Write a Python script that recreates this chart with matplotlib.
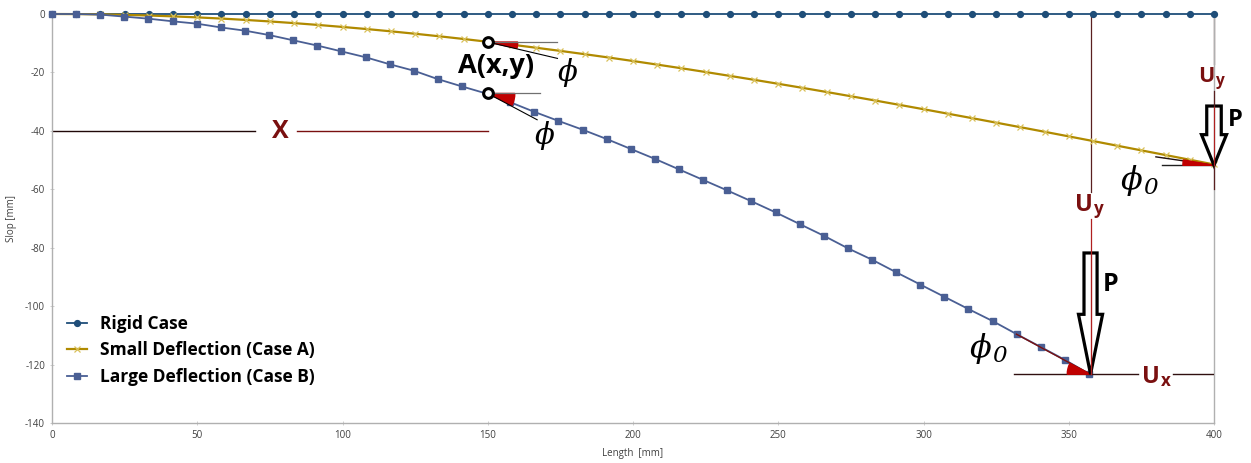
import numpy as np
import matplotlib
matplotlib.use("Agg")
import matplotlib.pyplot as plt
from matplotlib.patches import Wedge, FancyArrow

plt.rcParams["font.family"] = ["Open Sans", "DejaVu Sans"]
plt.rcParams["axes.unicode_minus"] = False

# ── Data ─────────────────────────────────────────────────────────────────────
rigid_x = np.linspace(0, 400, 49)
rigid_y = np.zeros(49)

small_x = np.linspace(0, 400, 49)
small_y = [0, -0.03, -0.13, -0.30, -0.52, -0.81, -1.16, -1.56, -2.03, -2.55,
           -3.12, -3.75, -4.43, -5.15, -5.93, -6.76, -7.63, -8.55, -9.51, -10.51,
           -11.55, -12.63, -13.75, -14.90, -16.09, -17.32, -18.57, -19.86, -21.18,
           -22.52, -23.89, -25.28, -26.70, -28.15, -29.61, -31.09, -32.59, -34.11,
           -35.64, -37.19, -38.74, -40.31, -41.89, -43.48, -45.08, -46.68, -48.28,
           -49.89, -51.50]

large_x = np.linspace(0, 357, 44)
large_y = [0, 0, -0.2, -0.9, -1.6, -2.5, -3.3, -4.6, -5.7, -7.2, -9.0, -10.8,
           -12.8, -14.8, -17.2, -19.4, -22.3, -24.8, -27.2, -30.2, -33.5, -36.6,
           -39.6, -42.8, -46.2, -49.6, -53.2, -56.8, -60.4, -64.1, -67.9, -71.9,
           -75.9, -80.2, -84.1, -88.4, -92.6, -96.8, -101.0, -105.1, -109.6,
           -114.0, -118.4, -123.2]

labels = ["Rigid Case", "Small Deflection (Case A)", "Large Deflection (Case B)"]

C_RIGID = "#1f4e79"
C_SMALL = "#b08a00"
C_SMALL_MK = "#d9c15a"
C_LARGE = "#4a5f94"
DARKRED = "#7a1010"
PHI = "ϕ"

fig = plt.figure(figsize=(12.51, 4.63), dpi=100)
ax = fig.add_axes([52 / 1251, 40 / 463, 1162 / 1251, 409 / 463])

ax.plot(rigid_x, rigid_y, color=C_RIGID, lw=1.3, marker="o", ms=4.2,
        label=labels[0], clip_on=False, zorder=3)
ax.plot(small_x, small_y, color=C_SMALL, lw=1.6, marker="x", ms=4.5, mew=0.9,
        mec=C_SMALL_MK, label=labels[1], clip_on=False, zorder=3)
ax.plot(large_x, large_y, color=C_LARGE, lw=1.3, marker="s", ms=4.3,
        label=labels[2], clip_on=False, zorder=3)

ax.set_xlim(0, 400)
ax.set_ylim(-140, 0)
ax.set_xticks(range(0, 401, 50))
ax.set_yticks(range(-140, 1, 20))
ax.tick_params(labelsize=7, colors="#404040", length=3, width=0.6, direction="inout")
ax.tick_params(axis="both", color="#c8c8c8")
for s in ["left", "bottom", "right"]:
    ax.spines[s].set_color("#b0b0b0")
    ax.spines[s].set_linewidth(1.0)
ax.spines["top"].set_visible(False)
ax.set_xlabel("Length  [mm]", fontsize=7, color="#404040", labelpad=5)
ax.set_ylabel("Slop [mm]", fontsize=7, color="#404040", labelpad=6)

leg = ax.legend(loc="upper left", bbox_to_anchor=(0.013, 0.265), frameon=False,
                prop={"size": 12.5, "weight": "bold"}, borderpad=0, borderaxespad=0,
                handlelength=1.15, handletextpad=0.75, labelspacing=0.5)


def sub_label(x, y, main, sub, size, color):
    """Bold letter with a lowered, smaller subscript next to it."""
    ax.text(x, y, main, color=color, fontsize=size, fontweight="bold",
            ha="right", va="center", clip_on=False)
    ax.annotate(sub, (x, y), xytext=(0.5, -3), textcoords="offset points",
                color=color, fontsize=size * 0.72, fontweight="bold",
                ha="left", va="center", annotation_clip=False)


def phi0(x, y, size):
    ax.text(x, y, PHI, family="DejaVu Serif", style="italic", fontsize=size,
            ha="center", va="center")
    ax.annotate("0", (x, y), xytext=(size * 0.62, -size * 0.22), textcoords="offset points",
                family="DejaVu Serif", style="italic", fontsize=size * 0.72,
                ha="center", va="center")


# ── Annotations ──────────────────────────────────────────────────────────────
# X distance
ax.plot([0, 70], [-40, -40], color="#200808", lw=1.0)
ax.plot([84.5, 150], [-40, -40], color=DARKRED, lw=1.0)
ax.text(78.5, -40.3, "X", color=DARKRED, fontsize=18, fontweight="bold",
        ha="center", va="center")

# point A on both curves
ax.text(153, -17.9, "A(x,y)", fontsize=19.5, fontweight="bold", ha="center",
        va="center", color="black")
for (cy, ang, r, hx, tx, ty) in [(-9.6, 12, 10.3, 174, 24, -5.6), (-27.2, 26, 9.3, 168, 17, -9)]:
    ax.add_patch(Wedge((150, cy), r, -ang, 0, color="#c00000", zorder=4))
    ax.plot([150, hx], [cy, cy], color="#707070", lw=0.9, zorder=4)
    ax.plot([150, 150 + tx], [cy, cy + ty], color="black", lw=0.8, zorder=4)
    ax.plot(150, cy, marker="o", ms=7, mfc="white", mec="black", mew=2.2, zorder=6)
ax.text(177.5, -20, PHI, family="DejaVu Serif", style="italic", fontsize=21,
        ha="center", va="center")
ax.text(169.5, -41.5, PHI, family="DejaVu Serif", style="italic", fontsize=21,
        ha="center", va="center")

# large deflection tip
tipx, tipy = 357.5, -123.3
ax.plot([tipx, tipx], [0, -61], color="#5a2020", lw=0.9, zorder=2)
ax.plot([tipx, tipx], [-70, tipy], color="#b02020", lw=0.9, zorder=7)
ax.add_patch(FancyArrow(tipx, -81.8, 0, tipy + 81.8, width=4.5, head_width=8.3,
                        head_length=20.5, length_includes_head=True,
                        fc="white", ec="black", lw=2.3, zorder=6))
ax.plot([tipx, tipx], [-82, tipy], color="#b02020", lw=0.8, zorder=7)
ax.plot([332, tipx], [-109.6, tipy], color=DARKRED, lw=1.0, zorder=4)
ax.add_patch(Wedge((tipx, tipy), 8, 153, 180, color="#c00000", zorder=5))
ax.plot([331, 374], [tipy, tipy], color="#301010", lw=1.0, zorder=4)
ax.plot([386, 400], [tipy, tipy], color="#301010", lw=1.0, zorder=4)
sub_label(358.3, -65.3, "U", "y", 17, DARKRED)
ax.text(364.3, -92.5, "P", color="black", fontsize=18, fontweight="bold", ha="center", va="center")
sub_label(381.5, -124.3, "U", "x", 17, DARKRED)
phi0(319.5, -114.5, 23)

# small deflection tip
sx, sy = 400, -51.8
ax.plot([sx, sx], [0, -17], color="#5a2020", lw=0.9, clip_on=False, zorder=2)
ax.plot([sx, sx], [-26.5, -60], color="#5a2020", lw=0.9, clip_on=False, zorder=7)
ax.add_patch(FancyArrow(sx, -31.5, 0, sy + 31.5, width=5, head_width=8.6,
                        head_length=10.5, length_includes_head=True,
                        fc="white", ec="black", lw=2.3, zorder=6, clip_on=False))
ax.plot([sx, sx], [-32, sy], color="#b02020", lw=0.8, zorder=7, clip_on=False)
ax.plot([380, sx], [-48.9, sy], color="#201010", lw=1.0, zorder=4)
ax.add_patch(Wedge((sx, sy), 10.7, 170, 180, color="#c00000", zorder=5))
ax.plot([382, sx], [sy, sy], color="#202020", lw=1.0, zorder=4)
sub_label(400.2, -21.4, "U", "y", 15.5, DARKRED)
ax.text(407.3, -36.2, "P", color="black", fontsize=17, fontweight="bold", ha="center", va="center",
        clip_on=False)
phi0(371.5, -57, 23)

fig.savefig("out.png", dpi=100)
